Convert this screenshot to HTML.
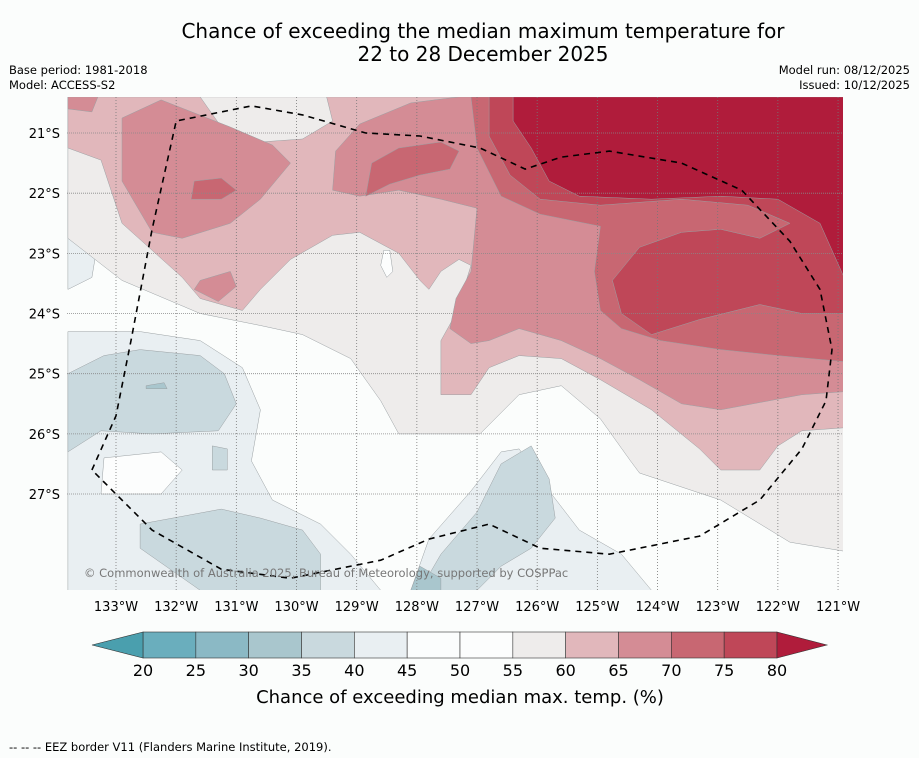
<!DOCTYPE html>
<html><head><meta charset="utf-8"><style>
body{margin:0;background:#fbfdfc;font-family:"DejaVu Sans","Liberation Sans",sans-serif;}
svg{display:block}
</style></head><body>
<svg id="chart" width="919" height="758" xmlns="http://www.w3.org/2000/svg" font-family="DejaVu Sans, Liberation Sans, sans-serif">
<rect width="919" height="758" fill="#fbfdfc"/>
<text x="483" y="38" font-size="20" text-anchor="middle" fill="#000">Chance of exceeding the median maximum temperature for</text>
<text x="483" y="61" font-size="20" text-anchor="middle" fill="#000">22 to 28 December 2025</text>
<text x="9" y="74" font-size="11.5">Base period: 1981-2018</text>
<text x="9" y="89" font-size="11.5">Model: ACCESS-S2</text>
<text x="910" y="74" font-size="11.5" text-anchor="end">Model run: 08/12/2025</text>
<text x="910" y="89" font-size="11.5" text-anchor="end">Issued: 10/12/2025</text>
<defs><clipPath id="mapclip"><rect x="67" y="97" width="776" height="493"/></clipPath></defs>
<g id="map" clip-path="url(#mapclip)">
<rect x="67" y="97" width="776" height="493" fill="#fbfdfc"/>
</g>
<g id="axes"></g>
<g id="cbar"></g>
<text x="460" y="703" font-size="18" text-anchor="middle">Chance of exceeding median max. temp. (%)</text>
<text x="9" y="751" font-size="11.5">--  --  -- EEZ border V11 (Flanders Marine Institute, 2019).</text>
</svg>
<script>
const NS="http://www.w3.org/2000/svg";
const lonTicks=[133,132,131,130,129,128,127,126,125,124,123,122,121];
const latTicks=[21,22,23,24,25,26,27];
const levels=[20,25,30,35,40,45,50,55,60,65,70,75,80];
const levelColors=["#6aaebd","#8bb9c5","#a9c6cd","#c9d9de","#e9eff2","#fbfdfd","#fcfdfd","#eeeceb","#e1b7bb","#d48c95","#c86772","#bf4758"];
const underColor="#4a9fae", overColor="#b01c3b";
// contour polygons [lonW, latS]
const c55=[[133.8,20.4],[120.9,20.4],[120.9,27.95],[121.8,27.8],[122.95,27.1],[124.3,26.65],[124.45,26.45],[124.95,25.75],[125.6,25.2],[126.3,25.35],[126.95,26.0],[128.3,26.0],[128.6,25.45],[129.1,24.75],[129.9,24.35],[130.6,24.2],[131.6,24.0],[132.9,23.45],[133.8,22.75]];
const c60=[[133.8,20.4],[133.8,21.25],[133.25,21.45],[132.9,22.5],[132.4,22.95],[131.9,23.4],[131.6,23.75],[130.9,23.95],[130.6,23.6],[130.1,23.1],[129.4,22.7],[128.95,22.65],[128.3,23.0],[127.95,23.45],[127.8,23.6],[127.6,23.3],[127.3,23.1],[127.1,23.2],[127.35,24.0],[127.6,24.45],[127.6,25.35],[127.1,25.35],[126.8,24.9],[126.3,24.7],[125.6,24.75],[124.95,25.1],[124.1,25.6],[123.3,26.25],[122.95,26.6],[122.3,26.6],[122.0,26.2],[121.6,25.95],[120.9,25.9],[120.9,20.4]];
const c55top=[[131.6,20.4],[129.5,20.4],[129.4,20.8],[129.9,21.1],[130.6,21.15],[131.25,20.9]];
const c55hole=[[128.55,22.95],[128.45,22.95],[128.4,23.3],[128.5,23.4],[128.6,23.2]];
const c65a=[[132.9,20.75],[132.25,20.45],[131.1,20.9],[130.4,21.2],[130.1,21.5],[130.6,22.1],[131.1,22.5],[131.9,22.75],[132.4,22.65],[132.9,21.8]];
const c65b=[[131.6,23.45],[131.1,23.3],[131.0,23.55],[131.3,23.8],[131.7,23.6]];
const c65c=[[133.8,20.4],[133.3,20.4],[133.4,20.65],[133.8,20.6]];
const c65d=[[129.4,21.95],[129.35,21.3],[128.95,20.85],[128.1,20.5],[127.3,20.4],[120.9,20.4],[120.9,25.3],[121.6,25.35],[122.95,25.6],[123.6,25.5],[124.3,25.1],[124.95,24.75],[125.6,24.45],[126.3,24.25],[126.8,24.45],[127.1,24.5],[127.45,24.25],[127.35,23.75],[127.1,23.3],[127.0,22.25],[127.6,22.1],[128.3,21.95],[128.95,22.05]];
const c70a=[[128.85,22.05],[128.75,21.5],[128.3,21.25],[127.6,21.15],[127.3,21.3],[127.45,21.6],[127.95,21.7],[128.45,21.85]];
const c70b=[[131.7,21.8],[131.25,21.75],[131.0,21.95],[131.25,22.1],[131.75,22.1]];
const c70c=[[127.1,20.4],[127.0,21.25],[126.6,22.05],[125.95,22.35],[124.95,22.55],[125.05,23.3],[124.95,23.95],[124.6,24.25],[123.95,24.45],[122.95,24.6],[122.0,24.7],[120.9,24.8],[120.9,20.4]];
const c75=[[126.8,20.4],[126.8,21.05],[126.45,21.7],[125.95,22.1],[124.95,22.2],[123.6,22.1],[122.5,22.2],[121.8,22.5],[122.3,22.75],[122.95,22.6],[123.6,22.65],[124.3,22.9],[124.75,23.45],[124.6,24.0],[124.1,24.35],[123.3,24.1],[122.3,23.85],[121.6,24.0],[120.9,24.0],[120.9,20.4]];
const c80=[[126.4,20.4],[126.4,20.8],[126.1,21.25],[125.8,21.8],[125.3,22.05],[124.1,22.1],[122.95,22.05],[122.0,22.1],[121.3,22.5],[120.9,23.4],[120.9,20.4]];
const b40a=[[133.8,21.95],[133.5,22.05],[133.3,22.8],[133.4,23.4],[133.8,23.6]];
const b40b=[[133.8,24.3],[132.6,24.3],[131.6,24.45],[130.9,24.9],[130.6,25.6],[130.75,26.45],[130.4,27.1],[129.6,27.5],[129.1,28.0],[128.6,28.6],[133.8,28.6]];
const b40c=[[128.1,28.6],[127.8,27.75],[127.1,26.95],[126.6,26.3],[126.3,26.25],[125.8,26.95],[125.3,27.6],[124.6,28.0],[124.1,28.6]];
const w50=[[133.2,26.4],[132.25,26.3],[131.9,26.6],[132.25,27.0],[133.25,27.0]];
const b35a=[[133.8,25.0],[133.2,24.7],[132.6,24.6],[131.6,24.7],[131.2,25.0],[131.0,25.5],[131.3,25.95],[132.4,26.0],[133.25,25.95],[133.8,26.3]];
const b35b=[[132.6,27.5],[131.25,27.25],[130.6,27.4],[129.9,27.6],[129.6,28.0],[129.6,28.6],[131.6,28.6],[132.6,27.9]];
const b35c=[[131.4,26.2],[131.15,26.25],[131.15,26.6],[131.4,26.6]];
const b35d=[[127.95,28.6],[127.6,28.0],[127.0,27.3],[126.6,26.5],[126.1,26.2],[125.8,26.75],[125.7,27.4],[126.1,27.9],[126.6,28.2],[127.0,28.6]];
const b30a=[[128.1,28.6],[127.95,28.2],[127.6,28.4],[127.6,28.6]];
const b30b=[[132.5,25.2],[132.2,25.15],[132.15,25.25],[132.5,25.25]];
const eez=[[133.4,26.6],[133.0,25.7],[132.75,24.45],[132.4,22.6],[132.0,20.8],[130.75,20.55],[129.9,20.7],[128.85,21.0],[127.95,21.05],[126.95,21.25],[126.2,21.6],[125.6,21.4],[124.8,21.3],[123.6,21.5],[122.6,21.95],[121.8,22.8],[121.3,23.6],[121.1,24.6],[121.2,25.45],[121.6,26.25],[122.3,27.1],[123.3,27.7],[124.8,28.0],[125.95,27.9],[126.8,27.5],[127.8,27.75],[128.6,28.1],[130.1,28.4],[131.25,28.25],[132.4,27.6],[133.4,26.6]];

const px=lon=>116+(133-lon)*60.17;
const py=lat=>133+(lat-21)*60.17;
const map=document.getElementById('map');
function pts(a){return a.map(p=>px(p[0]).toFixed(1)+','+py(p[1]).toFixed(1)).join(' ');}
function poly(a,fill,name){
  const e=document.createElementNS(NS,'polygon');
  e.setAttribute('points',pts(a));e.setAttribute('fill',fill);
  e.setAttribute('stroke','#9aa0a3');e.setAttribute('stroke-width','0.5');
  
  
  map.appendChild(e);
}
[[b40a,4,'contour-40-a'],[b40b,4,'contour-40-b'],[b40c,4,'contour-40-c'],[w50,6,'contour-50-patch'],
 [b35a,3,'contour-35-a'],[b35b,3,'contour-35-b'],[b35c,3,'contour-35-c'],[b35d,3,'contour-35-d'],
 [b30a,2,'contour-30-a'],[b30b,2,'contour-30-b'],
 [c55,7,'contour-55'],[c60,8,'contour-60'],[c55top,7,'contour-55-top'],[c55hole,6,'contour-50-hole'],
 [c65a,9,'contour-65-a'],[c65b,9,'contour-65-b'],[c65c,9,'contour-65-c'],[c65d,9,'contour-65-d'],
 [c70a,10,'contour-70-a'],[c70b,10,'contour-70-b'],[c70c,10,'contour-70-c'],[c75,11,'contour-75']
].forEach(d=>poly(d[0],levelColors[d[1]],d[2]));
poly(c80,overColor,'contour-80');
lonTicks.forEach(l=>{
  const e=document.createElementNS(NS,'line');
  e.setAttribute('x1',px(l));e.setAttribute('x2',px(l));e.setAttribute('y1',97);e.setAttribute('y2',590);
  e.setAttribute('stroke','#777');e.setAttribute('stroke-width','0.8');e.setAttribute('stroke-dasharray','1,2');
  
  
  map.appendChild(e);
});
latTicks.forEach(l=>{
  const e=document.createElementNS(NS,'line');
  e.setAttribute('x1',67);e.setAttribute('x2',843);e.setAttribute('y1',py(l));e.setAttribute('y2',py(l));
  e.setAttribute('stroke','#888');e.setAttribute('stroke-width','0.8');e.setAttribute('stroke-dasharray','1,1');
  
  
  map.appendChild(e);
});
const ez=document.createElementNS(NS,'polyline');
ez.setAttribute('points',pts(eez));ez.setAttribute('fill','none');ez.setAttribute('stroke','#000');
ez.setAttribute('stroke-width','1.6');ez.setAttribute('stroke-dasharray','6,5');


map.appendChild(ez);
const cp=document.createElementNS(NS,'text');
cp.setAttribute('x',84);cp.setAttribute('y',577);cp.setAttribute('font-size','11.5');cp.setAttribute('fill','#777');
cp.textContent='© Commonwealth of Australia 2025, Bureau of Meteorology, supported by COSPPac';


map.appendChild(cp);
const ax=document.getElementById('axes');
lonTicks.forEach(l=>{
  const t=document.createElementNS(NS,'text');
  t.setAttribute('x',px(l));t.setAttribute('y',611);t.setAttribute('font-size','13');t.setAttribute('text-anchor','middle');
  t.textContent=l+'°W';
  
  
  ax.appendChild(t);
});
latTicks.forEach(l=>{
  const t=document.createElementNS(NS,'text');
  t.setAttribute('x',60);t.setAttribute('y',py(l)+5);t.setAttribute('font-size','13');t.setAttribute('text-anchor','end');
  t.textContent=l+'°S';
  
  
  ax.appendChild(t);
});
const cb=document.getElementById('cbar');
const cx=v=>143+(v-20)*(777-143)/60;
const cy0=632,cy1=658;
for(let i=0;i<levelColors.length;i++){
  const r=document.createElementNS(NS,'rect');
  r.setAttribute('x',cx(levels[i]));r.setAttribute('y',cy0);
  r.setAttribute('width',cx(levels[i+1])-cx(levels[i]));r.setAttribute('height',cy1-cy0);
  r.setAttribute('fill',levelColors[i]);r.setAttribute('stroke','#333');r.setAttribute('stroke-width','0.6');
  
  
  cb.appendChild(r);
}
const tl=document.createElementNS(NS,'polygon');
tl.setAttribute('points',`${cx(20)},${cy0} 92,${(cy0+cy1)/2} ${cx(20)},${cy1}`);
tl.setAttribute('fill',underColor);tl.setAttribute('stroke','#333');tl.setAttribute('stroke-width','0.6');


cb.appendChild(tl);
const tr=document.createElementNS(NS,'polygon');
tr.setAttribute('points',`${cx(80)},${cy0} 827,${(cy0+cy1)/2} ${cx(80)},${cy1}`);
tr.setAttribute('fill',overColor);tr.setAttribute('stroke','#333');tr.setAttribute('stroke-width','0.6');


cb.appendChild(tr);
levels.forEach(v=>{
  const t=document.createElementNS(NS,'text');
  t.setAttribute('x',cx(v));t.setAttribute('y',676);t.setAttribute('font-size','16');t.setAttribute('text-anchor','middle');
  t.textContent=v;
  
  
  cb.appendChild(t);
});
</script>
</body></html>
